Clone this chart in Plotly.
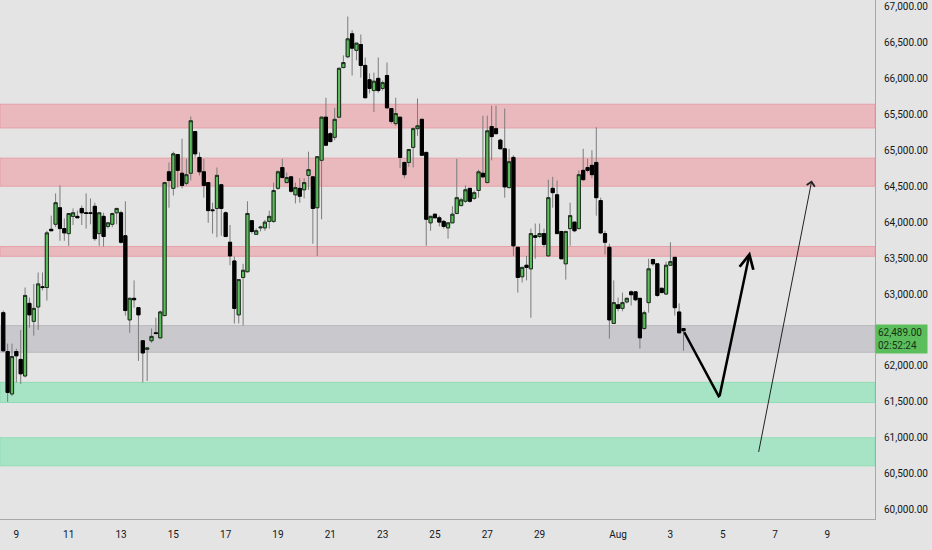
import pandas as pd
import plotly.graph_objects as go

# 4h candles, first one opens Jul 8 12:00
start_time = "2024-07-08 12:00"

open_ = [62740, 62200, 61610, 62200, 62090, 61860, 62870, 62620, 62820, 63100,
         63090, 63900, 63970, 64200, 63910, 63840, 64080, 64080, 64190, 64130,
         64130, 64220, 63840, 64080, 63940, 63970, 64130, 64130, 63810, 62640,
         62940, 62810, 62350, 62230, 62350, 62460, 62390, 62700, 64700, 64470,
         64940, 64680, 64540, 64680, 65260, 64900, 64700, 64550, 64170, 64190,
         64520, 64130, 63720, 63460, 62710, 63230, 63310, 64020, 63830, 63920,
         63920, 64010, 64010, 64470, 64760, 64550, 64630, 64380, 64470, 64450,
         64650, 64630, 64200, 64860, 65460, 65230, 65180, 65460, 66150, 66300,
         66620, 66390, 66470, 66180, 65980, 65830, 66000, 65860, 66040, 65580,
         65370, 65460, 64830, 64830, 65040, 65300, 65430, 64970, 63990, 64110,
         64060, 64010, 63920, 63990, 64120, 64230, 64290, 64470, 64330, 64440,
         64680, 64550, 65330, 65300, 65140, 65020, 64480, 64900, 63650, 63240,
         63400, 63350, 63810, 63800, 63840, 63530, 64470, 64380, 63870, 63420,
         63910, 64000, 63910, 64720, 64760, 64790, 64830, 64300, 63840, 63650,
         62590, 62850, 62800, 62890, 63030, 63030, 62940, 62520, 62880, 63480,
         63420, 63080, 63000, 63400, 63510, 62750, 62520]
high = [62770, 62310, 62310, 62240, 62500, 63090, 62950, 63140, 63300, 63300,
        63880, 64090, 64400, 64510, 64050, 64120, 64190, 64160, 64230, 64400,
        64330, 64270, 64130, 64130, 64000, 64130, 64200, 64160, 64290, 62950,
        63190, 62810, 62350, 62260, 62520, 62670, 62770, 64550, 64830, 64980,
        64940, 65160, 64880, 65470, 65260, 64970, 64880, 64550, 64270, 64760,
        64520, 64150, 63960, 63520, 63200, 63420, 64290, 64020, 63910, 63950,
        64030, 64160, 64550, 64720, 64880, 64690, 64630, 64550, 64610, 64610,
        64980, 64630, 64910, 65460, 65730, 65250, 65590, 66140, 66320, 66860,
        66670, 66490, 66610, 66290, 66070, 66080, 66290, 65970, 66220, 65580,
        65730, 65460, 64840, 65010, 65320, 65720, 65440, 64970, 64090, 64120,
        64090, 64030, 63990, 64220, 64880, 64340, 64510, 64470, 64440, 64730,
        65480, 65480, 65620, 65620, 65160, 65580, 65020, 64930, 63650, 63380,
        63530, 63910, 63980, 63980, 63910, 64590, 64630, 64580, 63870, 63880,
        64270, 64000, 64720, 65020, 64880, 65000, 65320, 64340, 63880, 63700,
        63190, 62950, 63020, 62950, 63050, 63030, 62940, 62770, 63490, 63490,
        63420, 63080, 63450, 63720, 63510, 62870, 62520]
low = [62190, 61500, 61580, 61770, 61750, 61840, 62530, 62420, 62500, 63050,
       62910, 63880, 63930, 63740, 63740, 63670, 63960, 64060, 63960, 63910,
       63970, 63740, 63670, 63660, 63910, 63930, 63970, 63700, 62700, 62460,
       62810, 62070, 61770, 61790, 62320, 62450, 62380, 62690, 64200, 64370,
       64480, 64470, 64510, 64580, 64900, 64650, 64340, 63990, 63840, 63790,
       63810, 63790, 63400, 62590, 62590, 62560, 63300, 63840, 63820, 63870,
       63880, 63910, 63990, 64450, 64620, 64540, 64410, 64260, 64270, 64330,
       64450, 63700, 63530, 64040, 65070, 65120, 65140, 65450, 66140, 66280,
       66040, 66250, 66010, 65730, 65790, 65530, 65800, 65830, 65580, 65370,
       65340, 64750, 64610, 64770, 64760, 65200, 64930, 63670, 63880, 64060,
       63940, 63910, 63770, 63990, 64110, 64220, 64270, 64270, 64310, 64340,
       64610, 64550, 64860, 65220, 65020, 64340, 64470, 63530, 63020, 63160,
       63190, 62670, 63490, 63780, 63650, 63530, 64200, 63840, 63490, 63200,
       63670, 63860, 63900, 64580, 64690, 64610, 64090, 63840, 63550, 62380,
       62590, 62760, 62760, 62870, 62840, 62900, 62240, 62500, 62740, 63390,
       62960, 63010, 62990, 63390, 62700, 62450, 62210]
close = [62210, 61630, 62130, 62140, 61890, 62980, 62710, 62800, 63140, 63090,
         63850, 63880, 64270, 63910, 63850, 64120, 64130, 64060, 64130, 64120,
         64120, 63770, 64130, 63800, 63990, 64120, 64190, 63720, 62770, 62940,
         62920, 62710, 62180, 62250, 62410, 62450, 62750, 64550, 64580, 64950,
         64720, 64510, 64660, 65410, 64950, 64700, 64510, 64160, 64160, 64650,
         64190, 63800, 63530, 62800, 63200, 63330, 64120, 63870, 63880, 63930,
         64000, 64080, 64440, 64700, 64620, 64620, 64430, 64480, 64360, 64550,
         64730, 64190, 64910, 65460, 65070, 65120, 65430, 66140, 66220, 66550,
         66420, 66490, 66180, 65730, 65860, 65960, 65830, 65940, 65590, 65400,
         65510, 64900, 64660, 65010, 65300, 65340, 64930, 64040, 64080, 64060,
         64000, 63940, 63990, 64110, 64340, 64310, 64450, 64290, 64410, 64700,
         64630, 65270, 65190, 65230, 65020, 64490, 64840, 63670, 63230, 63370,
         63370, 63840, 63790, 63840, 63690, 64340, 64410, 63840, 63490, 63870,
         64090, 63880, 64660, 64590, 64720, 64660, 64340, 63850, 63720, 62640,
         62880, 62800, 62880, 62940, 62990, 62920, 62390, 62740, 63350, 63420,
         62980, 63020, 63400, 63450, 62810, 62460, 62489]

# support / resistance zones (price bottom, price top)
red_zones = [(65310, 65640), (64500, 64890), (63525, 63660)]
gray_zones = [(62190, 62560)]
green_zones = [(61490, 61770), (60610, 61000)]

# drawn projection arrows (time, price)
thick_arrow_t = ["2024-08-03 12:00", "2024-08-04 20:50", "2024-08-06 01:00"]
thick_arrow_p = [62489, 61562, 63590]
thin_arrow_t = ["2024-08-06 08:40", "2024-08-08 09:40"]
thin_arrow_p = [60782, 64578]

tick_dates = ["2024-07-09", "2024-07-11", "2024-07-13", "2024-07-15", "2024-07-17",
              "2024-07-19", "2024-07-21", "2024-07-23", "2024-07-25", "2024-07-27",
              "2024-07-29", "2024-08-01", "2024-08-03", "2024-08-05", "2024-08-07",
              "2024-08-09"]
tick_text = ["9", "11", "13", "15", "17", "19", "21", "23", "25", "27", "29",
             "Aug", "3", "5", "7", "9"]
# 62,500 sits under the last price tag, so it is left out
price_ticks = [60000, 60500, 61000, 61500, 62000, 63000, 63500,
               64000, 64500, 65000, 65500, 66000, 66500, 67000]

last_price_text = "62,489.00<br>02:52:24"

times = pd.date_range(start=start_time, periods=len(close), freq="4h")
body_top = [max(o, c) for o, c in zip(open_, close)]
body_bot = [min(o, c) for o, c in zip(open_, close)]

GREEN = "#5cbd5c"
BG = "#e4e4e4"
FONT = "Roboto, Liberation Sans, sans-serif"

fig = go.Figure()

# wicks (grey), bodies get covered by the next trace
fig.add_trace(go.Candlestick(
    x=times, open=open_, high=high, low=low, close=close,
    increasing=dict(line=dict(color="#7c7c7c", width=1), fillcolor=GREEN),
    decreasing=dict(line=dict(color="#7c7c7c", width=1), fillcolor="#000000"),
    hoverinfo="skip", showlegend=False))

# bodies with dark outline
fig.add_trace(go.Candlestick(
    x=times, open=open_, high=body_top, low=body_bot, close=close,
    increasing=dict(line=dict(color="#1e2e1e", width=1), fillcolor=GREEN),
    decreasing=dict(line=dict(color="#000000", width=1), fillcolor="#000000"),
    showlegend=False))

for lo, hi in red_zones:
    fig.add_shape(type="rect", xref="paper", x0=0, x1=1, y0=lo, y1=hi,
                  fillcolor="#e9b9bd", line=dict(color="#e6a0a8", width=1), layer="below")
for lo, hi in gray_zones:
    fig.add_shape(type="rect", xref="paper", x0=0, x1=1, y0=lo, y1=hi,
                  fillcolor="#c9c9cd", line=dict(color="#b9b9bd", width=1), layer="below")
for lo, hi in green_zones:
    fig.add_shape(type="rect", xref="paper", x0=0, x1=1, y0=lo, y1=hi,
                  fillcolor="#a7e3c5", line=dict(color="#8fdcb4", width=1), layer="below")

# thick zig-zag arrow
fig.add_annotation(x=thick_arrow_t[1], y=thick_arrow_p[1], ax=thick_arrow_t[0], ay=thick_arrow_p[0],
                   xref="x", yref="y", axref="x", ayref="y", text="", showarrow=True,
                   arrowhead=0, arrowwidth=2.5, arrowcolor="#000000")
fig.add_annotation(x=thick_arrow_t[2], y=thick_arrow_p[2], ax=thick_arrow_t[1], ay=thick_arrow_p[1],
                   xref="x", yref="y", axref="x", ayref="y", text="", showarrow=True,
                   arrowhead=5, arrowsize=1.1, arrowwidth=2.5, arrowcolor="#000000")
# thin long arrow
fig.add_annotation(x=thin_arrow_t[1], y=thin_arrow_p[1], ax=thin_arrow_t[0], ay=thin_arrow_p[0],
                   xref="x", yref="y", axref="x", ayref="y", text="", showarrow=True,
                   arrowhead=4, arrowsize=1.6, arrowwidth=1, arrowcolor="#222222")

# last price tag on the axis
fig.add_annotation(x=1, xref="paper", xanchor="left", y=close[-1], yref="y", yanchor="top",
                   yshift=7, text=last_price_text, showarrow=False, align="left",
                   width=47, bgcolor=GREEN, borderpad=2,
                   font=dict(family=FONT, size=10, color="#143314"))

fig.update_layout(
    width=932, height=550,
    margin=dict(l=0, r=57, t=0, b=31),
    paper_bgcolor=BG, plot_bgcolor=BG,
    font=dict(family=FONT, size=10, color="#131722"),
    showlegend=False,
    boxgap=0.15, boxgroupgap=0.15,
    xaxis=dict(
        type="date", range=["2024-07-08 09:00", "2024-08-10 19:40"],
        rangeslider=dict(visible=False), showgrid=False, zeroline=False,
        tickvals=tick_dates, ticktext=tick_text, ticks="",
        showline=True, linecolor="#a8a8a8", linewidth=1, ticklabelstandoff=6),
    yaxis=dict(
        side="right", range=[59870, 67090], tickvals=price_ticks,
        tickformat=",.2f", showgrid=False, zeroline=False, ticks="",
        showline=True, linecolor="#a8a8a8", linewidth=1, ticklabelstandoff=6),
)

fig.write_html("out.html", config={"displayModeBar": False},
               post_script="document.body.style.margin='0';document.body.style.overflow='hidden';")
